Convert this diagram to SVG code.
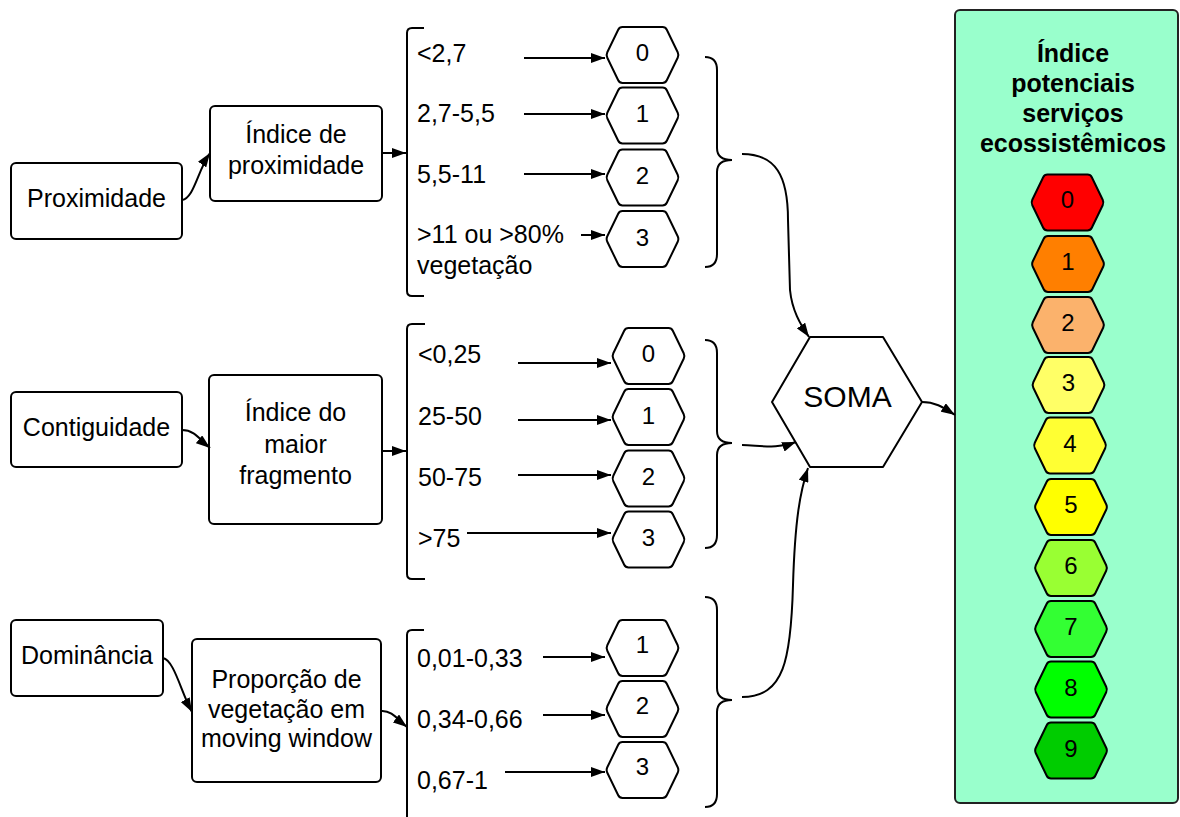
<svg xmlns="http://www.w3.org/2000/svg" xmlns:xlink="http://www.w3.org/1999/xlink" width="1180" height="817" viewBox="0 0 1180 817">
<style>
.box{fill:#fff;stroke:#000;stroke-width:2}
.ln{fill:none;stroke:#000;stroke-width:2}
.arr{marker-end:url(#ah)}
.hex{fill:#fff;stroke:#000;stroke-width:2;stroke-linejoin:round}
.t{font-family:"Liberation Sans",Arial,sans-serif;font-size:25px;fill:#000}
.c{text-anchor:middle}
.hn{font-family:"Liberation Sans",Arial,sans-serif;font-size:24px;text-anchor:middle;fill:#000}
.ttl{font-family:"Liberation Sans",Arial,sans-serif;font-size:25px;font-weight:bold;text-anchor:middle;fill:#000}
</style>
<defs>
<marker id="ah" viewBox="0 0 14 10" refX="14" refY="5" markerWidth="14" markerHeight="10" markerUnits="userSpaceOnUse" orient="auto"><path d="M0,0 L14,5 L0,10 Z" fill="#000"/></marker>
<path id="hx" d="M-35.2,-2.7 L-24.3,-25.3 Q-23,-28 -20,-28 L20,-28 Q23,-28 24.3,-25.3 L35.2,-2.7 Q36.5,0 35.2,2.7 L24.3,25.3 Q23,28 20,28 L-20,28 Q-23,28 -24.3,25.3 L-35.2,2.7 Q-36.5,0 -35.2,-2.7 Z"/>
</defs>
<rect width="1180" height="817" fill="#fff"/>

<g id="legend">
<rect x="955" y="10" width="223" height="793" rx="5" fill="#99FFCC" stroke="#222" stroke-width="2"/>
<text class="ttl" x="1073" y="62">Índice</text>
<text class="ttl" x="1073" y="92">potenciais</text>
<text class="ttl" x="1073" y="122">serviços</text>
<text class="ttl" x="1073" y="152">ecossistêmicos</text>
</g>
<g id="legend-0"><use xlink:href="#hx" x="1067.5" y="202.5" class="hex" style="fill:#FF0000"/><text class="hn" x="1067.5" y="208">0</text></g>
<g id="legend-1"><use xlink:href="#hx" x="1068" y="264" class="hex" style="fill:#FF7F00"/><text class="hn" x="1068" y="270">1</text></g>
<g id="legend-2"><use xlink:href="#hx" x="1068" y="325" class="hex" style="fill:#FBB26C"/><text class="hn" x="1068" y="331">2</text></g>
<g id="legend-3"><use xlink:href="#hx" x="1068.5" y="385" class="hex" style="fill:#FFFF66"/><text class="hn" x="1068.5" y="391">3</text></g>
<g id="legend-4"><use xlink:href="#hx" x="1070" y="445.5" class="hex" style="fill:#FFFF33"/><text class="hn" x="1070" y="451.5">4</text></g>
<g id="legend-5"><use xlink:href="#hx" x="1071" y="507" class="hex" style="fill:#FFFF00"/><text class="hn" x="1071" y="513">5</text></g>
<g id="legend-6"><use xlink:href="#hx" x="1071" y="568" class="hex" style="fill:#99FF33"/><text class="hn" x="1071" y="574">6</text></g>
<g id="legend-7"><use xlink:href="#hx" x="1071" y="629" class="hex" style="fill:#33FF33"/><text class="hn" x="1071" y="635">7</text></g>
<g id="legend-8"><use xlink:href="#hx" x="1071" y="689.5" class="hex" style="fill:#00FF00"/><text class="hn" x="1071" y="695.5">8</text></g>
<g id="legend-9"><use xlink:href="#hx" x="1071" y="750.5" class="hex" style="fill:#00CC00"/><text class="hn" x="1071" y="756.5">9</text></g>

<g id="proximidade"><rect class="box" x="11" y="163" width="171" height="76" rx="5"/><text class="t c" x="96.5" y="207">Proximidade</text></g>
<g id="indice-proximidade"><rect class="box" x="210" y="106" width="172" height="95" rx="5"/><text class="t c" x="296" y="143">Índice de</text><text class="t c" x="296" y="174">proximidade</text></g>
<g id="contiguidade"><rect class="box" x="11" y="392" width="171" height="75" rx="5"/><text class="t c" x="96.5" y="436">Contiguidade</text></g>
<g id="indice-maior"><rect class="box" x="209" y="375" width="173" height="149" rx="5"/><text class="t c" x="295.5" y="421">Índice do</text><text class="t c" x="295.5" y="453">maior</text><text class="t c" x="295.5" y="484">fragmento</text></g>
<g id="dominancia"><rect class="box" x="11" y="620" width="152" height="76" rx="5"/><text class="t c" x="87" y="664">Dominância</text></g>
<g id="proporcao"><rect class="box" x="192" y="639" width="189" height="143" rx="5"/><text class="t c" x="286.5" y="688">Proporção de</text><text class="t c" x="286.5" y="718">vegetação em</text><text class="t c" x="286.5" y="747">moving window</text></g>

<g id="ranges-1">
<path class="ln" d="M424,28 L412,28 Q407,28 407,33 L407,291 Q407,296 412,296 L424,296"/>
<text class="t" x="417" y="62">&lt;2,7</text>
<text class="t" x="417" y="122">2,7-5,5</text>
<text class="t" x="417" y="183">5,5-11</text>
<text class="t" x="417" y="243">&gt;11 ou &gt;80%</text>
<text class="t" x="417" y="274">vegetação</text>
</g>
<g id="ranges-2">
<path class="ln" d="M425,324 L412,324 Q407,324 407,329 L407,574 Q407,579 412,579 L425,579"/>
<text class="t" x="418" y="363">&lt;0,25</text>
<text class="t" x="418" y="425">25-50</text>
<text class="t" x="418" y="486">50-75</text>
<text class="t" x="418" y="547">&gt;75</text>
</g>
<g id="ranges-3">
<path class="ln" d="M424,630 L412,630 Q407,630 407,635 L407,817"/>
<text class="t" x="417" y="667">0,01-0,33</text>
<text class="t" x="417" y="728">0,34-0,66</text>
<text class="t" x="417" y="789">0,67-1</text>
</g>

<g id="h1-0"><use xlink:href="#hx" x="642.5" y="55" class="hex"/><text class="hn" x="642.5" y="61">0</text></g>
<g id="h1-1"><use xlink:href="#hx" x="642.5" y="115.5" class="hex"/><text class="hn" x="642.5" y="122">1</text></g>
<g id="h1-2"><use xlink:href="#hx" x="642.5" y="177.5" class="hex"/><text class="hn" x="642.5" y="184">2</text></g>
<g id="h1-3"><use xlink:href="#hx" x="642.5" y="239" class="hex"/><text class="hn" x="642.5" y="245.5">3</text></g>
<g id="h2-0"><use xlink:href="#hx" x="648.5" y="356" class="hex"/><text class="hn" x="648.5" y="362">0</text></g>
<g id="h2-1"><use xlink:href="#hx" x="648.5" y="417" class="hex"/><text class="hn" x="648.5" y="423.5">1</text></g>
<g id="h2-2"><use xlink:href="#hx" x="648.5" y="478.5" class="hex"/><text class="hn" x="648.5" y="485">2</text></g>
<g id="h2-3"><use xlink:href="#hx" x="648.5" y="539.5" class="hex"/><text class="hn" x="648.5" y="546">3</text></g>
<g id="h3-1"><use xlink:href="#hx" x="642.5" y="648" class="hex"/><text class="hn" x="642.5" y="653">1</text></g>
<g id="h3-2"><use xlink:href="#hx" x="642.5" y="709" class="hex"/><text class="hn" x="642.5" y="714">2</text></g>
<g id="h3-3"><use xlink:href="#hx" x="642.5" y="770" class="hex"/><text class="hn" x="642.5" y="775">3</text></g>

<g id="braces">
<path class="ln" d="M705,57 Q717,57 717,70 L717,148 Q717,160 732,160 Q717,160 717,172 L717,254 Q717,267 705,267"/>
<path class="ln" d="M705,340 Q717,340 717,353 L717,431 Q717,443 732,443 Q717,443 717,455 L717,535 Q717,548 705,548"/>
<path class="ln" d="M705,597 Q717,597 717,610 L717,688 Q717,700 732,700 Q717,700 717,712 L717,794 Q717,807 705,807"/>
</g>

<g id="soma"><path class="hex" d="M772,402 L810,337 L883,337 L922,402 L883,467 L810,467 Z"/><text class="t c" x="847.5" y="407" style="font-size:30px">SOMA</text></g>

<g id="connectors">
<path class="ln arr" d="M182,200 C194,198 197,172 210,153"/>
<path class="ln arr" d="M382,153 L406,153"/>
<path class="ln arr" d="M182,430 C195,430 200,440 210,448"/>
<path class="ln arr" d="M382,451 L406,451"/>
<path class="ln arr" d="M163,658 C174,660 181,692 192,712"/>
<path class="ln arr" d="M381,711 C392,710 398,720 407,727"/>
<path class="ln arr" d="M524,58 L605,58"/>
<path class="ln arr" d="M524,114 L605,114"/>
<path class="ln arr" d="M524,174 L605,174"/>
<path class="ln arr" d="M581,235 L605,235"/>
<path class="ln arr" d="M518,363 L611,363"/>
<path class="ln arr" d="M518,420 L611,420"/>
<path class="ln arr" d="M518,475 L611,475"/>
<path class="ln arr" d="M467,533 L611,533"/>
<path class="ln arr" d="M543,657 L605,657"/>
<path class="ln arr" d="M543,715 L605,715"/>
<path class="ln arr" d="M505,772 L605,772"/>
<path class="ln arr" d="M742,154 C776,154 788,176 788,220 L790,290 C792,310 800,324 809,337"/>
<path class="ln arr" d="M742,445 C765,446 777,449 796,442"/>
<path class="ln arr" d="M742,697 C784,697 791,660 793,585 C795,520 800,492 808,468"/>
<path class="ln arr" d="M922,402 C936,402 944,408 955,415"/>
</g>
</svg>
